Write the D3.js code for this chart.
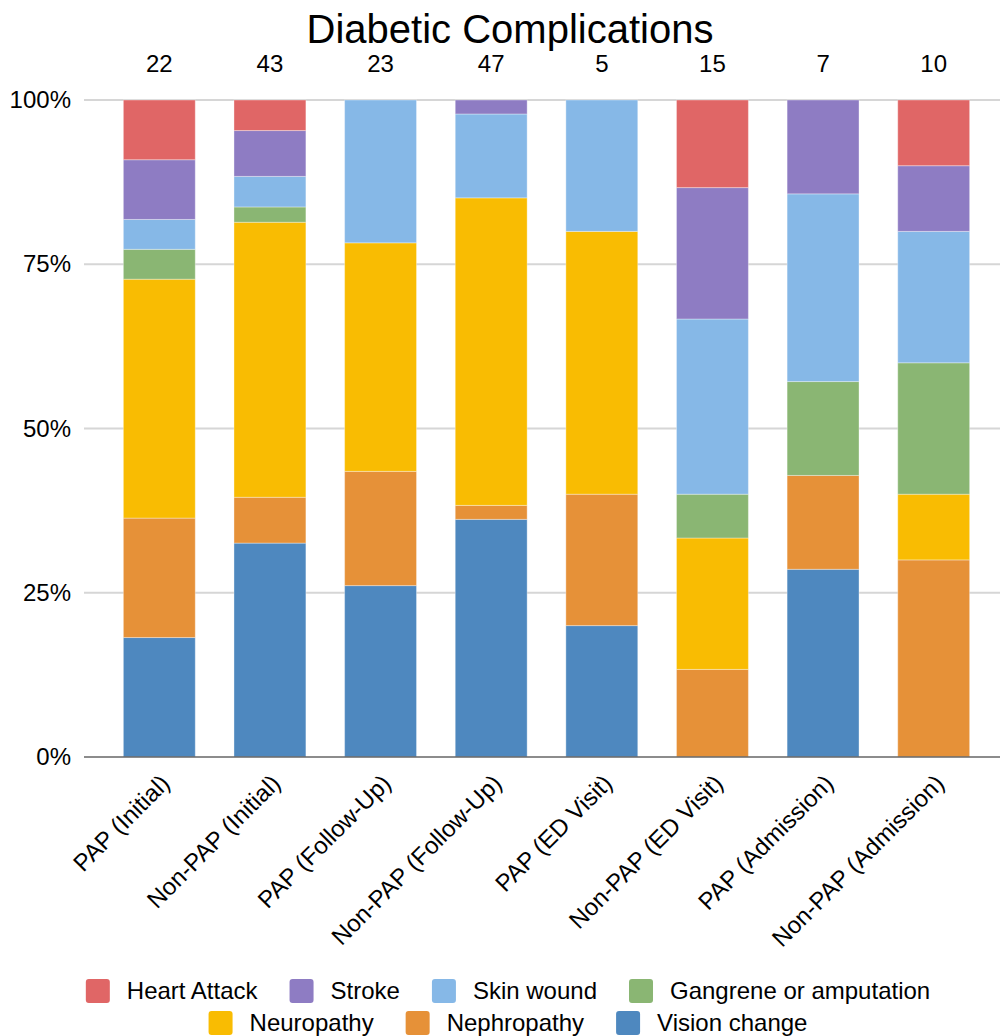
<!DOCTYPE html>
<html>
<head>
<meta charset="utf-8">
<script src="https://d3js.org/d3.v7.min.js"></script>
<style>
  body { margin: 0; background: #fff; }
  text { font-family: "Liberation Sans", Arial, sans-serif; fill: #000; }
</style>
</head>
<body>
<script>
// Set Dimensions
const width  = 1001;
const height = 1036;

// Data (counts per group)
const categories = ["PAP (Initial)", "Non-PAP (Initial)", "PAP (Follow-Up)", "Non-PAP (Follow-Up)",
                    "PAP (ED Visit)", "Non-PAP (ED Visit)", "PAP (Admission)", "Non-PAP (Admission)"];
const visionChange = [4, 14, 6, 17, 1, 0, 2, 0];
const nephropathy  = [4, 3, 4, 1, 1, 2, 1, 3];
const neuropathy   = [8, 18, 8, 22, 2, 3, 0, 1];
const gangrene     = [1, 1, 0, 0, 0, 1, 1, 2];
const skinWound    = [1, 2, 5, 6, 1, 4, 2, 2];
const stroke       = [2, 3, 0, 1, 0, 3, 1, 1];
const heartAttack  = [2, 2, 0, 0, 0, 2, 0, 1];
const yTicks = [0, 0.25, 0.5, 0.75, 1];

// stack order bottom -> top
const seriesNames  = ["Vision change", "Nephropathy", "Neuropathy", "Gangrene or amputation", "Skin wound", "Stroke", "Heart Attack"];
const seriesValues = [visionChange, nephropathy, neuropathy, gangrene, skinWound, stroke, heartAttack];
const colors = {
  "Heart Attack": "#e06666",
  "Stroke": "#8e7cc3",
  "Skin wound": "#86b8e7",
  "Gangrene or amputation": "#8ab673",
  "Neuropathy": "#f9bc02",
  "Nephropathy": "#e69138",
  "Vision change": "#4e88bf"
};
// legend rows (as shown)
const legendRows = [["Heart Attack", "Stroke", "Skin wound", "Gangrene or amputation"],
                    ["Neuropathy", "Nephropathy", "Vision change"]];

// build table for d3.stack
const table = categories.map((c, i) => {
  const row = {cat: c};
  seriesNames.forEach((s, j) => row[s] = seriesValues[j][i]);
  return row;
});
const totals = categories.map((c, i) => d3.sum(seriesValues, v => v[i]));

const stacked = d3.stack().keys(seriesNames).offset(d3.stackOffsetExpand)(table);

const svg = d3.select("body").append("svg")
  .attr("width", width)
  .attr("height", height);

const x = d3.scaleBand()
  .domain(categories)
  .range([104, 989])
  .paddingInner(0.35)
  .paddingOuter(0.175);

const y = d3.scaleLinear()
  .domain([0, 1])
  .range([757, 100]);

// title
svg.append("text")
  .attr("x", 510).attr("y", 43)
  .attr("text-anchor", "middle")
  .style("font-size", "40px")
  .text("Diabetic Complications");

// gridlines
svg.append("g")
  .selectAll("line")
  .data(yTicks.filter(d => d > 0))
  .join("line")
  .attr("x1", 84).attr("x2", 1000)
  .attr("y1", d => y(d)).attr("y2", d => y(d))
  .attr("stroke", "#d6d6d6")
  .attr("stroke-width", 2);

// y labels
svg.append("g")
  .selectAll("text")
  .data(yTicks)
  .join("text")
  .attr("x", 71)
  .attr("y", d => y(d) + 8)
  .attr("text-anchor", "end")
  .style("font-size", "24px")
  .text(d3.format(".0%"));

// bars
svg.append("g")
  .selectAll("g")
  .data(stacked)
  .join("g")
  .attr("fill", d => colors[d.key])
  .selectAll("rect")
  .data(d => d.filter(p => p[1] - p[0] > 0))
  .join("rect")
  .attr("x", d => x(d.data.cat))
  .attr("width", x.bandwidth())
  .attr("y", d => y(d[1]))
  .attr("height", d => y(d[0]) - y(d[1]))
  .attr("stroke", "#ffffff")
  .attr("stroke-opacity", 0.35)
  .attr("stroke-width", 1);

// baseline
svg.append("line")
  .attr("x1", 84).attr("x2", 1000)
  .attr("y1", y(0)).attr("y2", y(0))
  .attr("stroke", "#666")
  .attr("stroke-width", 1.5);

// totals
svg.append("g")
  .selectAll("text")
  .data(categories)
  .join("text")
  .attr("x", d => x(d) + x.bandwidth() / 2)
  .attr("y", 72)
  .attr("text-anchor", "middle")
  .style("font-size", "24px")
  .text((d, i) => totals[i]);

// x labels, rotated
svg.append("g")
  .selectAll("text")
  .data(categories)
  .join("text")
  .attr("transform", d => `translate(${x(d) + x.bandwidth() / 2},${773}) rotate(-45)`)
  .attr("text-anchor", "end")
  .attr("dy", "0.7em")
  .style("font-size", "24px")
  .text(d => d);

// legend
const legend = svg.append("g");
const rowY = [991, 1023];
legendRows.forEach((row, r) => {
  const g = legend.append("g");
  let cx = 0;
  row.forEach(name => {
    const item = g.append("g").attr("transform", `translate(${cx},0)`);
    item.append("rect")
      .attr("x", 0).attr("y", -12)
      .attr("width", 24).attr("height", 24)
      .attr("rx", 3)
      .attr("fill", colors[name]);
    const t = item.append("text")
      .attr("x", 41).attr("y", 8)
      .style("font-size", "24px")
      .text(name);
    cx += 41 + t.node().getComputedTextLength() + 32;
  });
  const w = cx - 32;
  g.attr("transform", `translate(${508 - w / 2},${rowY[r]})`);
});
</script>
</body>
</html>
